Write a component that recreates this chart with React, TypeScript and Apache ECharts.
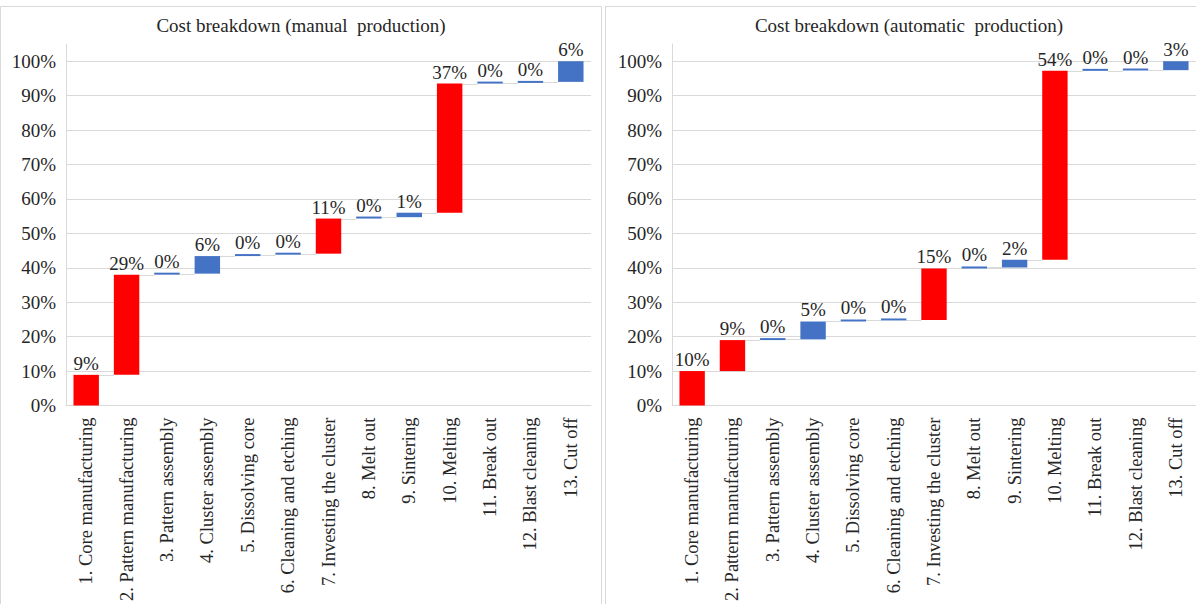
import React, { useEffect, useRef } from "react";
import * as echarts from "echarts";

const steps = [
  "1. Core manufacturing",
  "2. Pattern manufacturing",
  "3. Pattern assembly",
  "4. Cluster assembly",
  "5. Dissolving core",
  "6. Cleaning and etching",
  "7. Investing the cluster",
  "8. Melt out",
  "9. Sintering",
  "10. Melting",
  "11. Break out",
  "12. Blast cleaning",
  "13. Cut off",
];

// increments (% of total) as drawn
const manualShare = [8.9, 29.1, 0.3, 5.1, 0.4, 0.3, 10.2, 0.4, 1.3, 37.5, 0.2, 0.3, 6.0];
const manualLabels = [9, 29, 0, 6, 0, 0, 11, 0, 1, 37, 0, 0, 6];

const autoShare = [10.0, 9.0, 0.2, 5.2, 0.3, 0.1, 15.0, 0.3, 2.2, 54.9, 0.1, 0.1, 2.6];
const autoLabels = [10, 9, 0, 5, 0, 0, 15, 0, 2, 54, 0, 0, 3];

const yTicks = [0, 10, 20, 30, 40, 50, 60, 70, 80, 90, 100];

const FONT = "Liberation Serif";
const TEXT = "#262626";
const GRID_COLOR = "#d9d9d9";
const RED = "#FF0000";
const BLUE = "#4472C4";
const BAR_FRAC = 0.63;

function cumulative(arr: number[]) {
  const out: number[] = [];
  let s = 0;
  for (const v of arr) {
    s += v;
    out.push(s);
  }
  return out;
}

function buildSeries(share: number[], labels: number[], idx: number) {
  const cum = cumulative(share);
  const base = cum.map((c, i) => c - share[i]);
  return [
    {
      type: "bar",
      xAxisIndex: idx,
      yAxisIndex: idx,
      stack: "w" + idx,
      data: base,
      barWidth: BAR_FRAC * 100 + "%",
      itemStyle: { color: "transparent" },
      silent: true,
    },
    {
      type: "bar",
      xAxisIndex: idx,
      yAxisIndex: idx,
      stack: "w" + idx,
      barMinHeight: 2,
      barWidth: BAR_FRAC * 100 + "%",
      data: share.map((v, i) => ({
        value: v,
        itemStyle: { color: labels[i] >= 7 ? RED : BLUE },
      })),
      label: {
        show: true,
        position: "top",
        distance: 2,
        fontFamily: FONT,
        fontSize: 19,
        color: TEXT,
        formatter: (p: any) => labels[p.dataIndex] + "%",
      },
    },
    {
      type: "custom",
      xAxisIndex: idx,
      yAxisIndex: idx,
      encode: { x: 0, y: 1 },
      data: cum.slice(0, cum.length - 1).map((c, i) => [i, c]),
      silent: true,
      renderItem: (params: any, api: any) => {
        const i = api.value(0);
        const v = api.value(1);
        const p = api.coord([i, v]);
        const band = api.size([1, 0])[0];
        const bw = band * BAR_FRAC;
        return {
          type: "line",
          shape: {
            x1: p[0] + bw / 2,
            y1: Math.round(p[1]) + 0.5,
            x2: p[0] + band - bw / 2,
            y2: Math.round(p[1]) + 0.5,
          },
          style: { stroke: GRID_COLOR, lineWidth: 1 },
        };
      },
    },
  ];
}

function xAxis(idx: number) {
  return {
    type: "category",
    gridIndex: idx,
    data: steps,
    axisLine: { show: true, lineStyle: { color: GRID_COLOR, width: 1 } },
    axisTick: { show: false },
    axisLabel: {
      rotate: 90,
      interval: 0,
      margin: 12,
      fontFamily: FONT,
      fontSize: 18.5,
      color: TEXT,
    },
  };
}

function yAxis(idx: number) {
  return {
    type: "value",
    gridIndex: idx,
    min: yTicks[0],
    max: 105,
    interval: yTicks[1] - yTicks[0],
    axisLine: { show: true, lineStyle: { color: GRID_COLOR, width: 1 } },
    axisTick: { show: false },
    axisLabel: {
      margin: 10,
      fontFamily: FONT,
      fontSize: 19,
      color: TEXT,
      showMaxLabel: false,
      formatter: (v: number) => (v > yTicks[yTicks.length - 1] ? "" : v + "%"),
    },
    splitLine: {
      show: true,
      showMaxLine: false,
      lineStyle: { color: GRID_COLOR, width: 1 },
    },
  };
}

export default function App() {
  const ref = useRef<HTMLDivElement>(null);
  useEffect(() => {
    if (!ref.current) return;
    const chart = echarts.init(ref.current, undefined, { renderer: "svg" });
    chart.setOption({
      animation: false,
      backgroundColor: "#ffffff",
      textStyle: { fontFamily: FONT },
      title: [
        {
          text: "Cost breakdown (manual  production)",
          left: 301,
          top: 16,
          textAlign: "center",
          padding: 0,
          textStyle: { fontFamily: FONT, fontSize: 19, fontWeight: "normal", color: TEXT },
        },
        {
          text: "Cost breakdown (automatic  production)",
          left: 909,
          top: 16,
          textAlign: "center",
          padding: 0,
          textStyle: { fontFamily: FONT, fontSize: 19, fontWeight: "normal", color: TEXT },
        },
      ],
      graphic: [
        {
          type: "rect",
          shape: { x: 0.5, y: 6.5, width: 601, height: 620 },
          style: { fill: "none", stroke: GRID_COLOR, lineWidth: 1 },
          silent: true,
          z: -1,
        },
        {
          type: "rect",
          shape: { x: 605.5, y: 6.5, width: 620, height: 620 },
          style: { fill: "none", stroke: GRID_COLOR, lineWidth: 1 },
          silent: true,
          z: -1,
        },
      ],
      grid: [
        { left: 66, top: 44, width: 525, height: 361.5, containLabel: false },
        { left: 672, top: 44, width: 524, height: 361.5, containLabel: false },
      ],
      xAxis: [xAxis(0), xAxis(1)],
      yAxis: [yAxis(0), yAxis(1)],
      series: [...buildSeries(manualShare, manualLabels, 0), ...buildSeries(autoShare, autoLabels, 1)],
    });
    return () => chart.dispose();
  }, []);
  return (
    <div
      ref={ref}
      style={{ position: "fixed", left: 0, top: 0, width: 1196, height: 604, background: "#fff" }}
    />
  );
}
